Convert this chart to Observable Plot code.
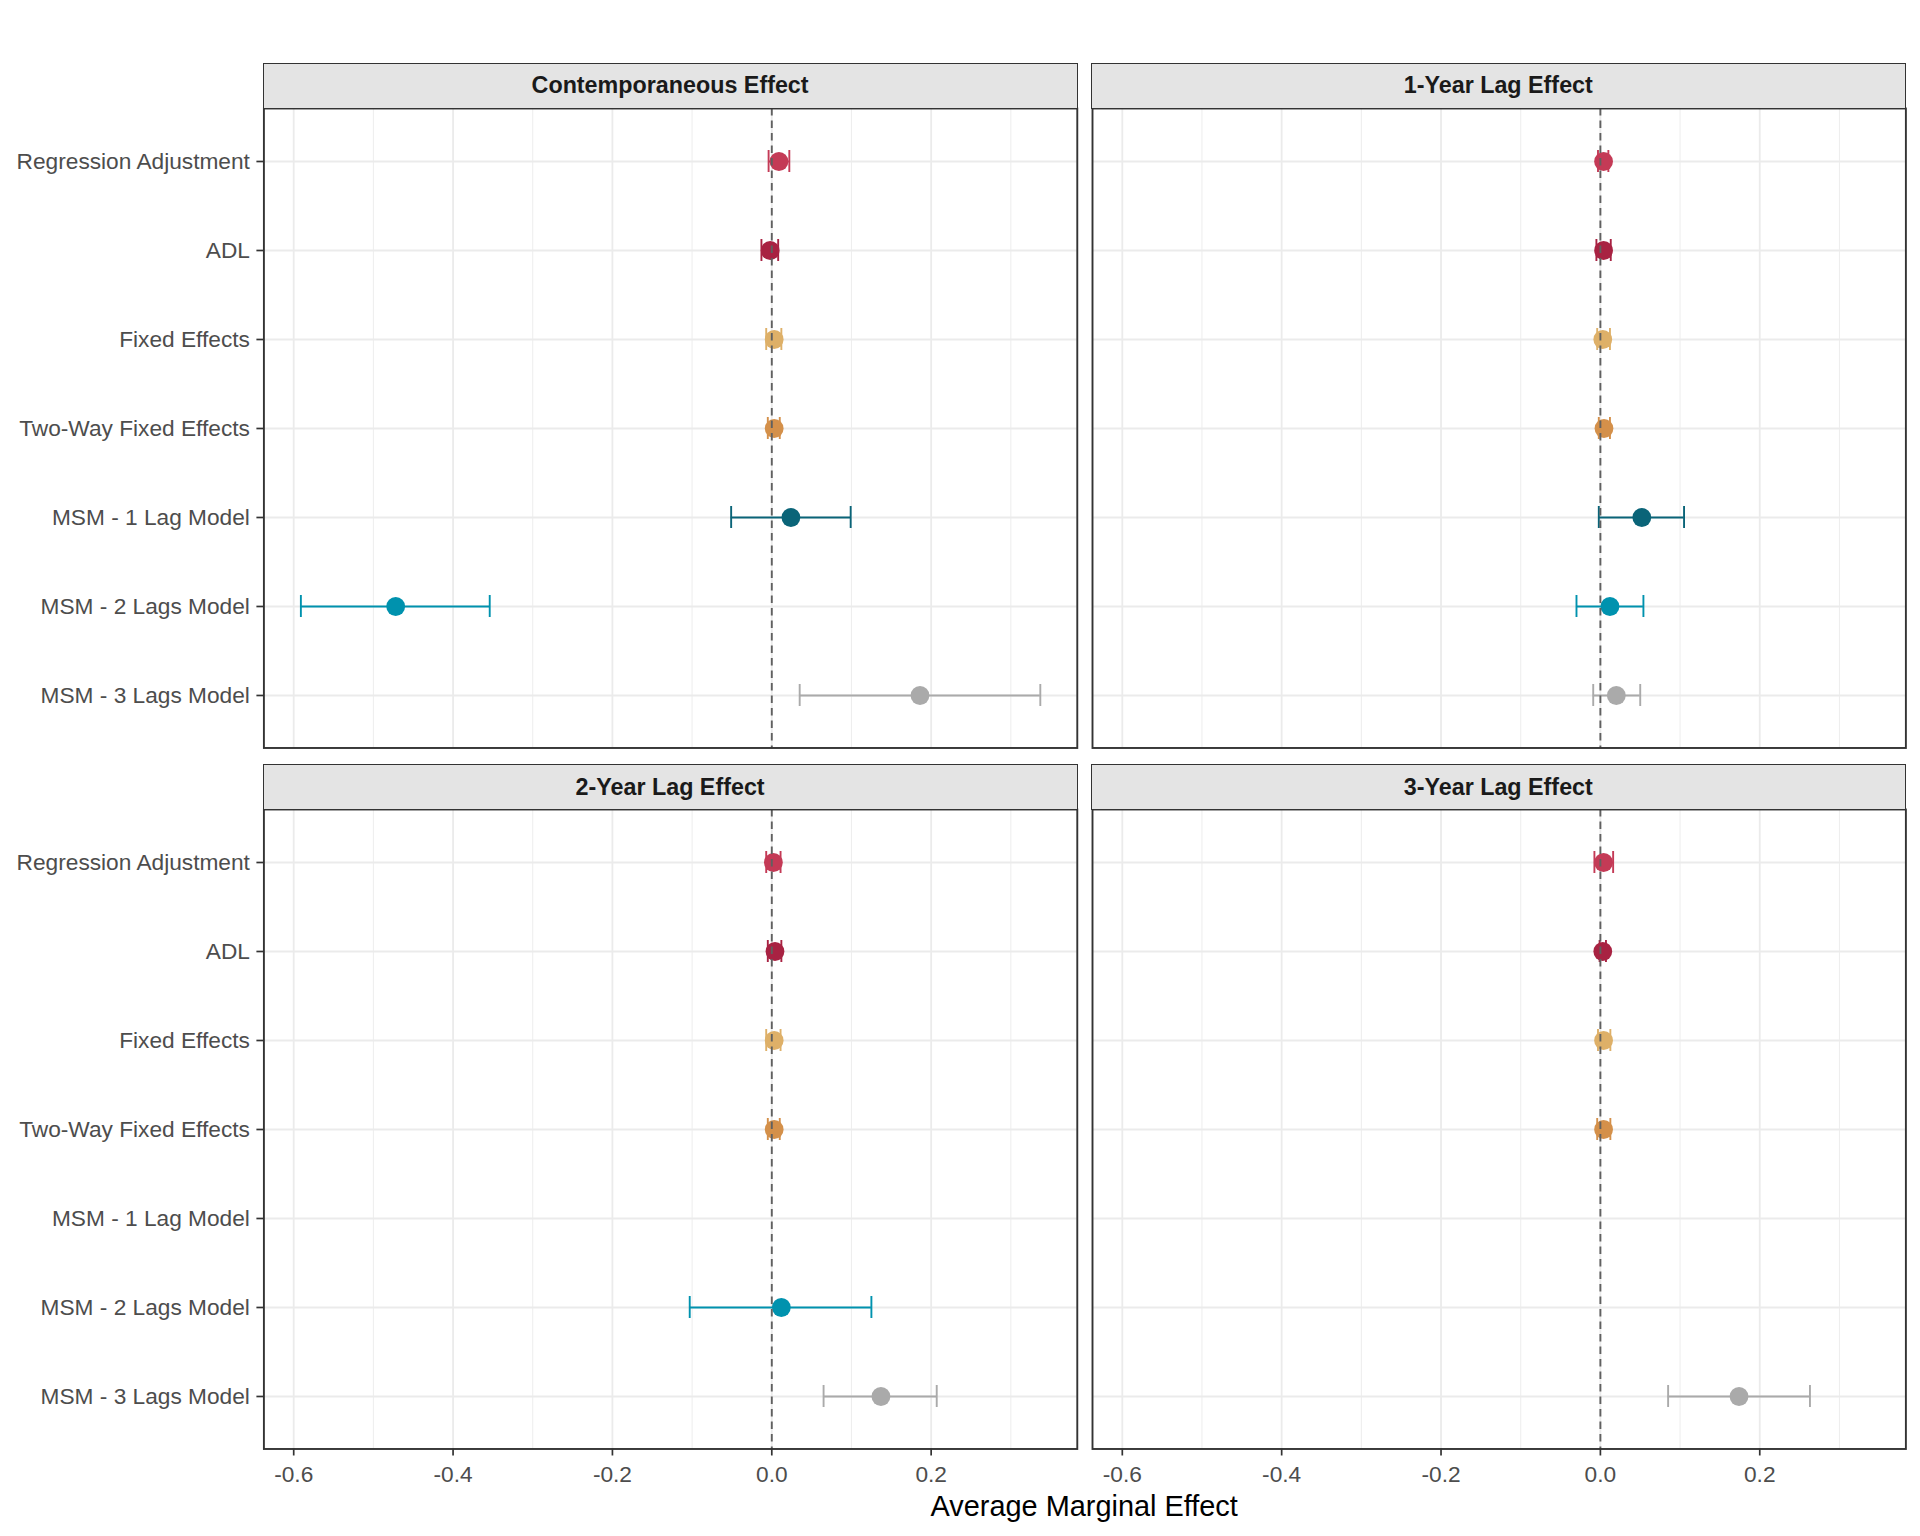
<!DOCTYPE html>
<html>
<head>
<meta charset="utf-8">
<script src="https://cdn.jsdelivr.net/npm/d3@7"></script>
<script src="https://cdn.jsdelivr.net/npm/@observablehq/plot@0.6"></script>
<style>
html, body { margin: 0; padding: 0; background: #fff; }
#root { position: relative; width: 1920px; height: 1536px; background: #fff; font-family: "Liberation Sans", Arial, sans-serif; }
.strip { position: absolute; box-sizing: border-box; background: #E4E4E4; border: 1.7px solid #333; display: flex; align-items: center; justify-content: center; font-weight: bold; font-size: 23.3px; color: #1A1A1A; }
.panel { position: absolute; }
.xtitle { position: absolute; font-size: 28.9px; color: #000; transform: translate(-50%, -50%); white-space: nowrap; }
</style>
</head>
<body>
<div id="root"></div>
<script>
// ---- Data ----
const panels = ["Contemporaneous Effect", "1-Year Lag Effect", "2-Year Lag Effect", "3-Year Lag Effect"];
const models = ["Regression Adjustment", "ADL", "Fixed Effects", "Two-Way Fixed Effects", "MSM - 1 Lag Model", "MSM - 2 Lags Model", "MSM - 3 Lags Model"];
const modelColors = ["#C43A56", "#A82242", "#DEB068", "#D4904A", "#0A6478", "#0092AE", "#AAAAAA"];

const estContemp = [0.009, -0.002, 0.003, 0.003, 0.024, -0.472, 0.186];
const loContemp  = [-0.004, -0.013, -0.007, -0.005, -0.051, -0.591, 0.035];
const hiContemp  = [0.022, 0.008, 0.012, 0.010, 0.099, -0.354, 0.337];

const estLag1 = [0.004, 0.004, 0.003, 0.0045, 0.052, 0.012, 0.020];
const loLag1  = [-0.003, -0.005, -0.004, -0.002, -0.002, -0.030, -0.009];
const hiLag1  = [0.010, 0.013, 0.012, 0.012, 0.105, 0.054, 0.050];

const estLag2 = [0.002, 0.004, 0.003, 0.003, null, 0.012, 0.137];
const loLag2  = [-0.007, -0.005, -0.007, -0.005, null, -0.103, 0.065];
const hiLag2  = [0.011, 0.012, 0.011, 0.010, null, 0.125, 0.207];

const estLag3 = [0.004, 0.003, 0.004, 0.004, null, null, 0.174];
const loLag3  = [-0.0075, -0.001, -0.003, -0.004, null, null, 0.085];
const hiLag3  = [0.016, 0.007, 0.0125, 0.0125, null, null, 0.263];

const xTicks = [-0.6, -0.4, -0.2, 0.0, 0.2];
const xTickLabels = ["-0.6", "-0.4", "-0.2", "0.0", "0.2"];
const xMinorTicks = [-0.5, -0.3, -0.1, 0.1, 0.3];
const xTitle = "Average Marginal Effect";

// ---- Build ----
const panelSeries = [
  [estContemp, loContemp, hiContemp],
  [estLag1, loLag1, hiLag1],
  [estLag2, loLag2, hiLag2],
  [estLag3, loLag3, hiLag3]
];

const allVals = panelSeries.flatMap(([e, l, h]) => [...l, ...h]).filter(v => v != null);
const xmin = d3.min(allVals), xmax = d3.max(allVals);
const pad = 0.05 * (xmax - xmin);
const xDomain = [xmin - pad, xmax + pad];

const root = document.getElementById("root");
const colLeft = [263.4, 1091.6];
const panelW = 813.4;
const stripTop = [62.5, 764];
const stripH = 46;
const bodyTop = [107.5, 808.5];
const bodyH = 639.5;

// discrete layout: row step ~89.1px, caps ~21.6px tall
const step = 89.1;
const pInner = 1 - 21.6 / step;
const pOuter = (bodyH / step - (models.length - 1)) / 2 - (1 - pInner) / 2;

panels.forEach((title, k) => {
  const col = k % 2, row = Math.floor(k / 2);
  const [est, lo, hi] = panelSeries[k];
  const data = models.map((m, i) => ({model: m, est: est[i], lo: lo[i], hi: hi[i], color: modelColors[i]}))
    .filter(d => d.est != null);

  const ml = col === 0 ? colLeft[0] : 2;
  const mt = 2, mr = 2, mb = row === 1 ? 70 : 2;

  const marks = [
    Plot.ruleX(xMinorTicks, {stroke: "#EBEBEB", strokeWidth: 0.9}),
    Plot.ruleX(xTicks, {stroke: "#EBEBEB", strokeWidth: 1.8}),
    Plot.ruleY(models, {stroke: "#EBEBEB", strokeWidth: 1.8}),
    Plot.ruleY(data, {y: "model", x1: "lo", x2: "hi", stroke: d => d.color, strokeWidth: 1.9}),
    Plot.tickX(data, {x: "lo", y: "model", stroke: d => d.color, strokeWidth: 1.9}),
    Plot.tickX(data, {x: "hi", y: "model", stroke: d => d.color, strokeWidth: 1.9}),
    Plot.dot(data, {x: "est", y: "model", r: 9.4, fill: d => d.color}),
    Plot.ruleX([0], {stroke: "#606060", strokeWidth: 1.9, strokeDasharray: "7.5,5"}),
    Plot.frame({stroke: "#333333", strokeWidth: 1.9})
  ];
  if (col === 0) {
    marks.push(Plot.axisY({tickSize: 7, tickPadding: 7, stroke: "#333333", strokeWidth: 1.7, fill: "#4D4D4D", fontSize: 22.7, label: null}));
  }
  if (row === 1) {
    marks.push(Plot.axisX(xTicks, {tickSize: 7, tickPadding: 10, stroke: "#333333", strokeWidth: 1.7, fill: "#4D4D4D", fontSize: 22.7,
      tickFormat: d => xTickLabels[xTicks.indexOf(d)], label: null}));
  }

  const chart = Plot.plot({
    width: ml + panelW + mr,
    height: mt + bodyH + mb,
    marginLeft: ml, marginRight: mr, marginTop: mt, marginBottom: mb,
    style: {fontFamily: "'Liberation Sans', Arial, sans-serif", background: "transparent", overflow: "visible"},
    x: {domain: xDomain, axis: null, label: null},
    y: {type: "band", domain: models, paddingInner: pInner, paddingOuter: pOuter, align: 0.5, axis: null, label: null},
    color: {type: "identity"},
    marks
  });
  const wrap = document.createElement("div");
  wrap.className = "panel";
  wrap.style.left = (colLeft[col] - ml) + "px";
  wrap.style.top = (bodyTop[row] - mt) + "px";
  wrap.appendChild(chart);
  root.appendChild(wrap);

  const strip = document.createElement("div");
  strip.className = "strip";
  strip.style.left = (colLeft[col] - 0.85) + "px";
  strip.style.top = stripTop[row] + "px";
  strip.style.width = (panelW + 1.7) + "px";
  strip.style.height = stripH + "px";
  strip.textContent = title;
  root.appendChild(strip);
});

const xt = document.createElement("div");
xt.className = "xtitle";
xt.style.left = ((colLeft[0] + colLeft[1] + panelW) / 2) + "px";
xt.style.top = "1506px";
xt.textContent = xTitle;
root.appendChild(xt);
</script>
</body>
</html>
